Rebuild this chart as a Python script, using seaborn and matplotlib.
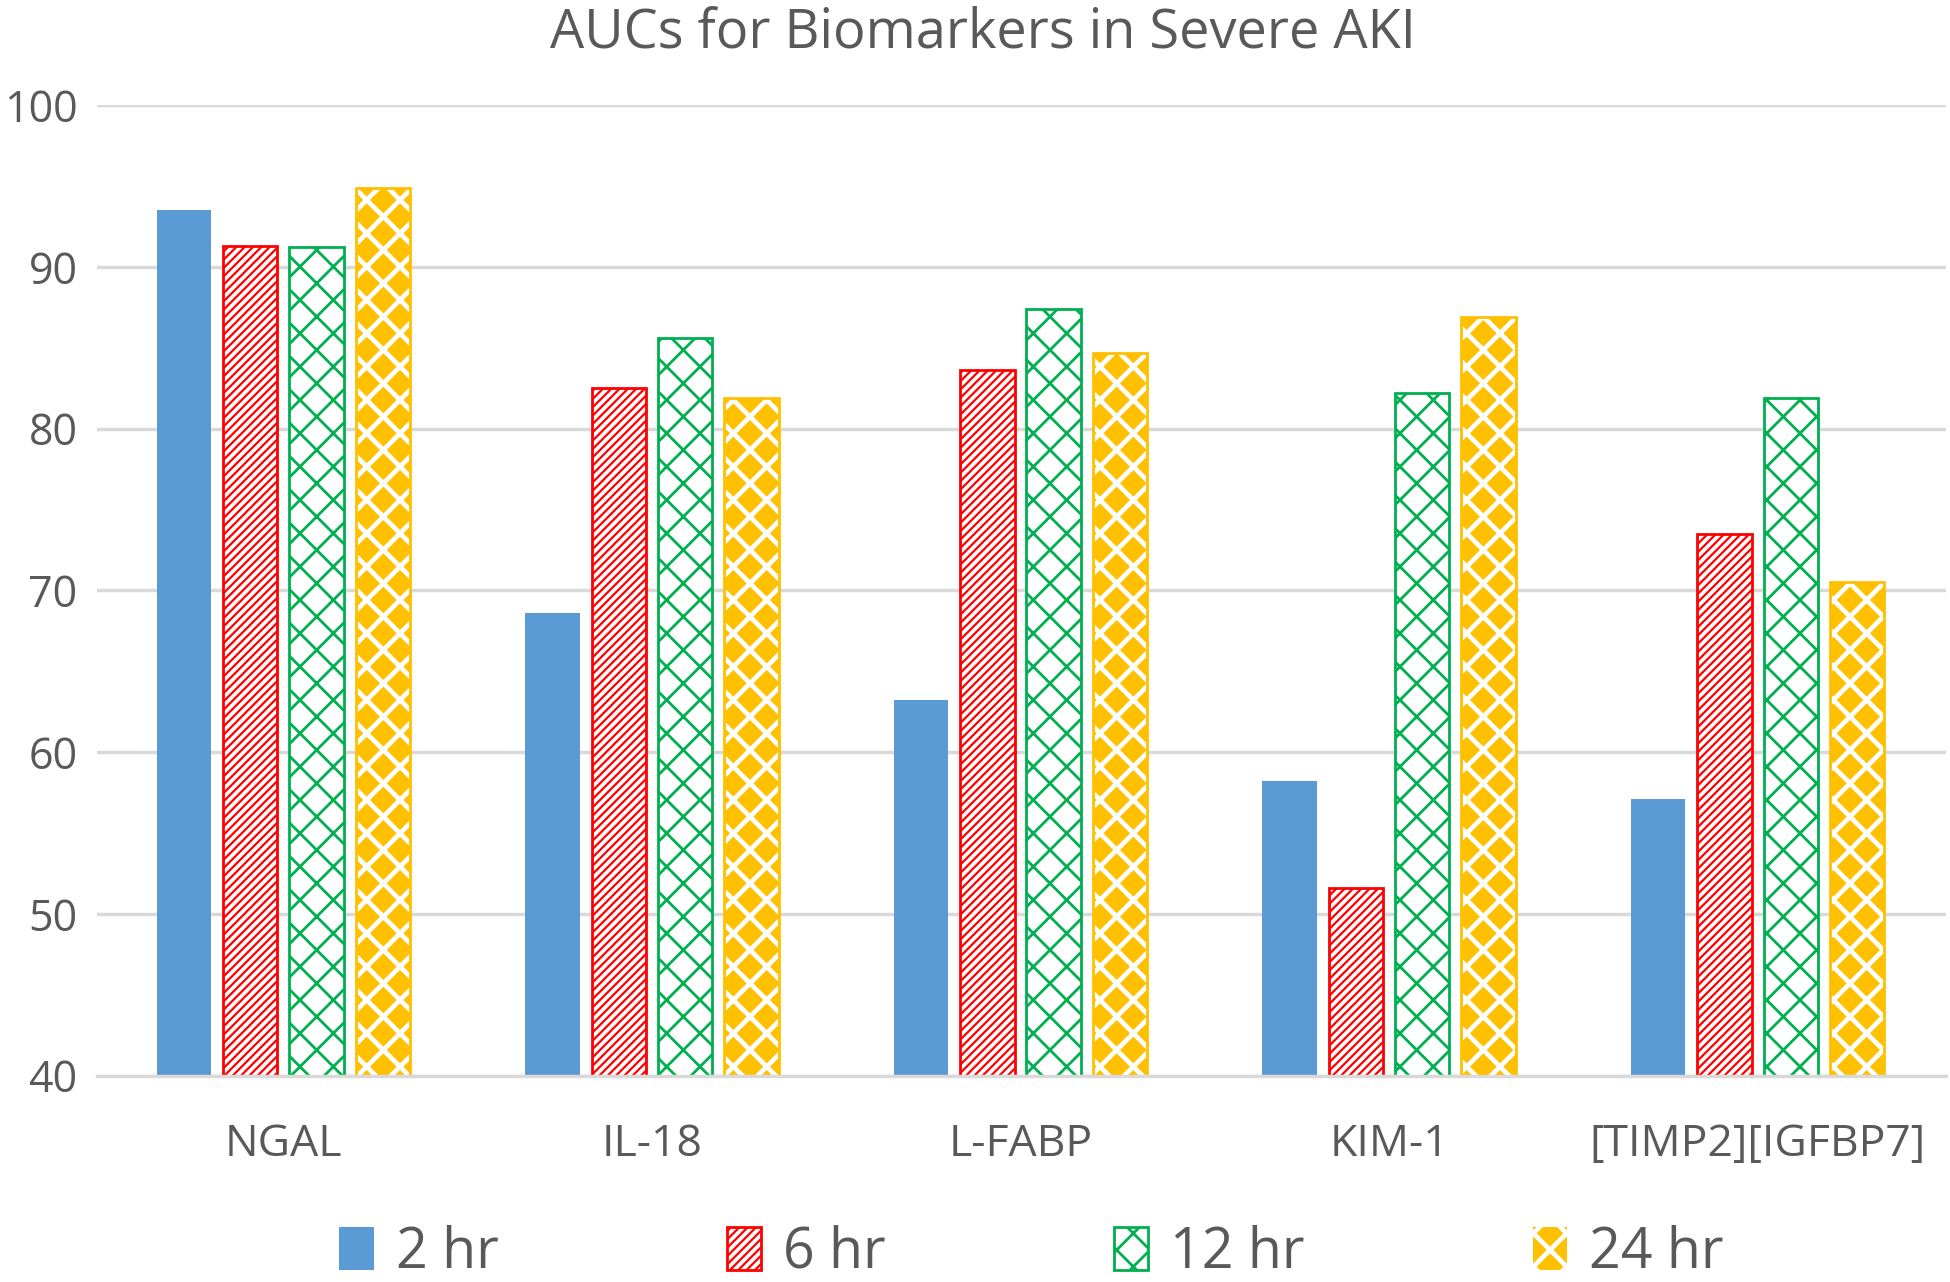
import numpy as np
import pandas as pd
import seaborn as sns
import matplotlib.pyplot as plt
from matplotlib.patches import Patch, Rectangle

# values
biomarkers = ['NGAL', 'IL-18', 'L-FABP', 'KIM-1', '[TIMP2][IGFBP7]']
times = ['2 hr', '6 hr', '12 hr', '24 hr']
auc_2hr = [93.5, 68.6, 63.2, 58.2, 57.1]
auc_6hr = [91.3, 82.5, 83.6, 51.6, 73.5]
auc_12hr = [91.2, 85.6, 87.4, 82.2, 81.9]
auc_24hr = [94.9, 81.9, 84.7, 86.9, 70.5]

colors = ['#5B9BD5', '#FF0000', '#00B050', '#FFC000']

df = pd.DataFrame({
    'biomarker': biomarkers * 4,
    'time': [t for t in times for _ in biomarkers],
    'auc': auc_2hr + auc_6hr + auc_12hr + auc_24hr,
})

sns.set_theme(style='white')
plt.rcParams['font.family'] = ['Open Sans', 'DejaVu Sans']
grey = '#595959'


def style_bar(p, i):
    # 2 hr solid, 6 hr stripes, 12 hr lattice, 24 hr diamonds
    if i == 0:
        p.set_facecolor(colors[0])
        p.set_edgecolor('none')
    elif i in (1, 2):
        p.set_facecolor('white')
        p.set_edgecolor(colors[i])
        p.set_hatch('////' if i == 1 else 'x')
        p.set_linewidth(2)
        p.set_hatch_linewidth(1.6 if i == 1 else 2.0)
    else:
        # yellow face with white hatch lines -> yellow diamonds
        p.set_facecolor(colors[3])
        p.set_edgecolor('white')
        p.set_hatch('x')
        p.set_linewidth(0)
        p.set_hatch_linewidth(3.4)


fig = plt.figure(figsize=(19.5, 12.82), dpi=100)
ax = fig.add_axes([0.0497, 0.161, 0.948, 0.757])

sns.barplot(data=df, x='biomarker', y='auc', hue='time', order=biomarkers,
            hue_order=times, width=0.72, gap=0.18, ax=ax, legend=False)

for i, cont in enumerate(ax.containers):
    for bar in cont:
        style_bar(bar, i)
        if i == 3:
            ax.add_patch(Rectangle(bar.get_xy(), bar.get_width(), bar.get_height(),
                                   fill=False, edgecolor=colors[3], linewidth=2,
                                   zorder=bar.get_zorder() + 0.1))

ax.set_ylim(40, 100)
ax.set_xlim(-0.506, 4.51)
ax.set_yticks(range(40, 101, 10))
ax.yaxis.grid(True, color='#d9d9d9', linewidth=2.5)
ax.set_axisbelow(True)
for s in ['top', 'right', 'left']:
    ax.spines[s].set_visible(False)
ax.spines['bottom'].set_color('#d9d9d9')
ax.spines['bottom'].set_linewidth(2.5)
ax.set_xlabel('')
ax.set_ylabel('')
ax.tick_params(axis='y', labelsize=31, colors=grey, length=0, pad=14)
ax.tick_params(axis='x', labelsize=32, colors=grey, length=0, pad=34)

fig.text(0.504, 0.963, 'AUCs for Biomarkers in Severe AKI', fontsize=39,
         color=grey, ha='center', va='baseline')

handles = [Patch(label=t) for t in times]
leg = fig.legend(handles=handles, loc='lower center', ncol=4, frameon=False,
                 fontsize=40, labelcolor=grey, bbox_to_anchor=(0.529, 0.0),
                 borderpad=0, borderaxespad=0,
                 handlelength=0.62, handleheight=0.8, handletextpad=0.4,
                 columnspacing=4.1)
for i, h in enumerate(leg.legend_handles):
    style_bar(h, i)

fig.savefig('out.png', dpi=100)
